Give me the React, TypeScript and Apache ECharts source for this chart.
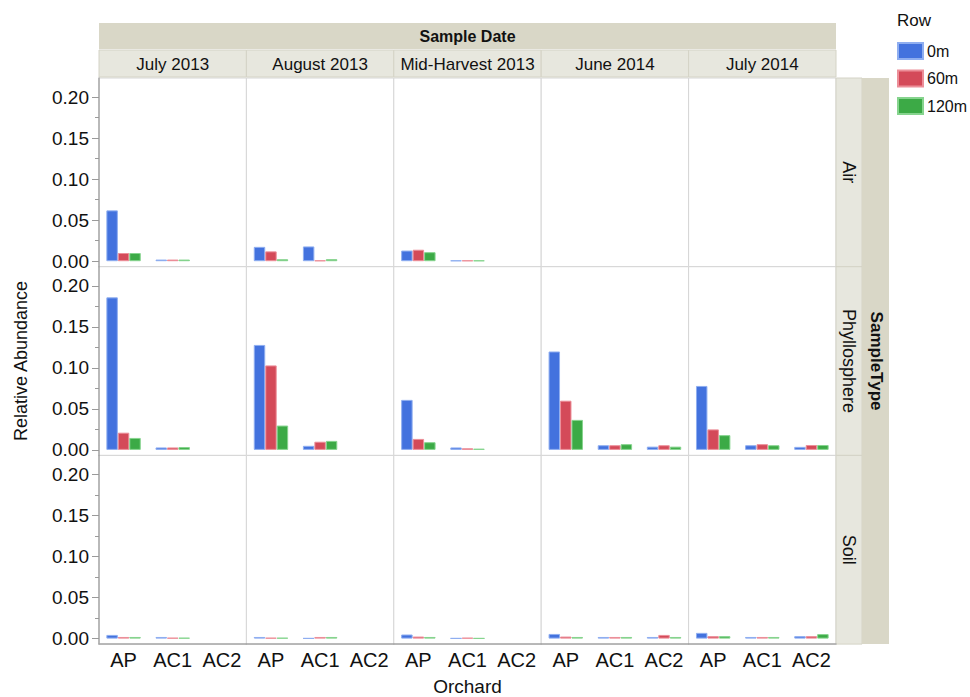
import React, { useEffect, useRef } from 'react';
import * as echarts from 'echarts';

const categories = ['AP', 'AC1', 'AC2'];
const dates = ['July 2013', 'August 2013', 'Mid-Harvest 2013', 'June 2014', 'July 2014'];
const sampleTypes = ['Air', 'Phyllosphere', 'Soil'];
const rowNames = ['0m', '60m', '120m'];
const yTickValues = [0, 0.05, 0.1, 0.15, 0.2];
const yMinorTickValues = [0.025, 0.075, 0.125, 0.175];

// values per date: [AP, AC1, AC2]
const air0m = [[0.062, 0.002, null], [0.0175, 0.018, null], [0.013, 0.001, null], [null, null, null], [null, null, null]];
const air60m = [[0.010, 0.002, null], [0.012, 0.001, null], [0.014, 0.001, null], [null, null, null], [null, null, null]];
const air120m = [[0.010, 0.002, null], [0.0024, 0.0025, null], [0.011, 0.001, null], [null, null, null], [null, null, null]];

const phyllo0m = [[0.186, 0.003, null], [0.128, 0.005, null], [0.061, 0.003, null], [0.120, 0.0057, 0.004], [0.078, 0.0057, 0.0037]];
const phyllo60m = [[0.021, 0.003, null], [0.103, 0.010, null], [0.0134, 0.002, null], [0.060, 0.0057, 0.0057], [0.025, 0.007, 0.006]];
const phyllo120m = [[0.0146, 0.0035, null], [0.0297, 0.011, null], [0.0094, 0.0015, null], [0.0366, 0.007, 0.004], [0.018, 0.0057, 0.006]];

const soil0m = [[0.0045, 0.002, null], [0.002, 0.0005, null], [0.005, 0.0005, null], [0.0057, 0.002, 0.002], [0.007, 0.002, 0.003]];
const soil60m = [[0.002, 0.001, null], [0.001, 0.002, null], [0.0025, 0.001, null], [0.0025, 0.002, 0.0045], [0.003, 0.002, 0.003]];
const soil120m = [[0.002, 0.001, null], [0.001, 0.002, null], [0.002, 0.0005, null], [0.002, 0.002, 0.002], [0.003, 0.002, 0.0055]];

const values = [
  [air0m, air60m, air120m],
  [phyllo0m, phyllo60m, phyllo120m],
  [soil0m, soil60m, soil120m],
];

const colors = ['#4372DE', '#D44A59', '#3CAA46'];
const borders = ['#8FAEF0', '#EC8F99', '#86D48E'];

const SANS = "'Liberation Sans', Arial, sans-serif";
const DARK = '#D9D7C7';
const LIGHT = '#E7E7DE';

const X0 = 99;
const PW = 147.4;
const Y0 = 78;
const PH = 188.7;
const YMIN = -0.0067;
const YMAX = 0.2234;

function buildOption() {
  const grid: any[] = [];
  const xAxis: any[] = [];
  const yAxis: any[] = [];
  const series: any[] = [];
  let yIdx = 0;
  for (let r = 0; r < 3; r++) {
    for (let c = 0; c < 5; c++) {
      const gi = r * 5 + c;
      grid.push({
        left: X0 + c * PW, top: Y0 + r * PH, width: PW, height: PH,
        show: true, borderColor: '#D6D6D6', borderWidth: 1, backgroundColor: '#fff',
      });
      const bottom = r === 2;
      xAxis.push({
        type: 'category', gridIndex: gi, data: categories,
        axisLine: { show: bottom, onZero: false, lineStyle: { color: '#A8A8A8', width: 1.5 } },
        axisTick: { show: false },
        axisLabel: { show: bottom, interval: 0, fontSize: 20, color: '#111', fontFamily: SANS, margin: 6 },
        splitLine: { show: false },
      });
      const left = c === 0;
      yAxis.push({
        type: 'value', gridIndex: gi, min: YMIN, max: YMAX, position: 'left',
        axisLine: { show: left, lineStyle: { color: '#A8A8A8', width: 1.5 } },
        axisTick: { show: left, customValues: yTickValues, length: 7, lineStyle: { color: '#9A9A9A' } },
        axisLabel: {
          show: left, customValues: yTickValues, fontSize: 19, color: '#111', fontFamily: SANS, margin: 10,
          formatter: (v: number) => v.toFixed(2),
        },
        splitLine: { show: false },
      });
      const mainY = yIdx;
      yIdx++;
      if (left) {
        yAxis.push({
          type: 'value', gridIndex: gi, min: YMIN, max: YMAX, position: 'left', offset: 0,
          axisLine: { show: false },
          axisTick: { show: true, customValues: yMinorTickValues, length: 4, lineStyle: { color: '#9A9A9A' } },
          axisLabel: { show: false },
          splitLine: { show: false },
        });
        yIdx++;
      }
      for (let s = 0; s < 3; s++) {
        series.push({
          type: 'bar', name: rowNames[s], xAxisIndex: gi, yAxisIndex: mainY,
          data: values[r][s][c],
          barGap: '0%', barCategoryGap: '30%',
          itemStyle: { color: colors[s], borderColor: borders[s], borderWidth: 1 },
          silent: true,
        });
      }
    }
  }

  const graphic: any[] = [];
  // Top header
  graphic.push({ type: 'rect', shape: { x: X0, y: 23, width: PW * 5, height: 26 }, style: { fill: DARK } });
  graphic.push({
    type: 'text', x: X0 + PW * 2.5, y: 36,
    style: { text: 'Sample Date', fill: '#111', font: `bold 16px ${SANS}`, align: 'center', verticalAlign: 'middle' },
  });
  for (let c = 0; c < 5; c++) {
    graphic.push({
      type: 'rect', shape: { x: X0 + c * PW, y: 50, width: PW, height: 27 },
      style: { fill: LIGHT, stroke: '#D4D3C6', lineWidth: 1 },
    });
    graphic.push({
      type: 'text', x: X0 + c * PW + PW / 2, y: 64,
      style: { text: dates[c], fill: '#111', font: `17px ${SANS}`, align: 'center', verticalAlign: 'middle' },
    });
  }
  // Right strips
  for (let r = 0; r < 3; r++) {
    graphic.push({
      type: 'rect', shape: { x: 836, y: Y0 + r * PH, width: 26, height: PH },
      style: { fill: LIGHT, stroke: '#D4D3C6', lineWidth: 1 },
    });
    graphic.push({
      type: 'text', x: 849, y: Y0 + r * PH + PH / 2, rotation: -Math.PI / 2,
      style: { text: sampleTypes[r], fill: '#111', font: `18px ${SANS}`, align: 'center', verticalAlign: 'middle' },
    });
  }
  graphic.push({ type: 'rect', shape: { x: 862, y: Y0, width: 27, height: PH * 3 }, style: { fill: DARK } });
  graphic.push({
    type: 'text', x: 876, y: Y0 + PH * 1.5, rotation: -Math.PI / 2,
    style: { text: 'SampleType', fill: '#111', font: `bold 17px ${SANS}`, align: 'center', verticalAlign: 'middle' },
  });
  // Axis titles
  graphic.push({
    type: 'text', x: 21, y: 361, rotation: Math.PI / 2,
    style: { text: 'Relative Abundance', fill: '#111', font: `18px ${SANS}`, align: 'center', verticalAlign: 'middle' },
  });
  graphic.push({
    type: 'text', x: X0 + PW * 2.5, y: 686,
    style: { text: 'Orchard', fill: '#111', font: `19px ${SANS}`, align: 'center', verticalAlign: 'middle' },
  });
  // Legend title
  graphic.push({
    type: 'text', x: 897, y: 20,
    style: { text: 'Row', fill: '#111', font: `17px ${SANS}`, align: 'left', verticalAlign: 'middle' },
  });

  return {
    animation: false,
    backgroundColor: '#fff',
    grid, xAxis, yAxis, series, graphic,
    legend: {
      data: rowNames, orient: 'vertical', left: 897, top: 42, padding: 0,
      itemWidth: 25, itemHeight: 16, itemGap: 9.5, icon: 'rect',
      textStyle: { fontSize: 16, color: '#111', fontFamily: SANS, padding: [0, 0, 0, -1] },
      selectedMode: false,
    },
  };
}

export default function App() {
  const ref = useRef<HTMLDivElement>(null);
  useEffect(() => {
    if (!ref.current) return;
    const chart = echarts.init(ref.current, null, { renderer: 'svg', width: 970, height: 697 });
    chart.setOption(buildOption() as any);
    return () => chart.dispose();
  }, []);
  return (
    <div
      ref={ref}
      style={{ position: 'absolute', left: 0, top: 0, width: 970, height: 697, background: '#fff' }}
    />
  );
}
